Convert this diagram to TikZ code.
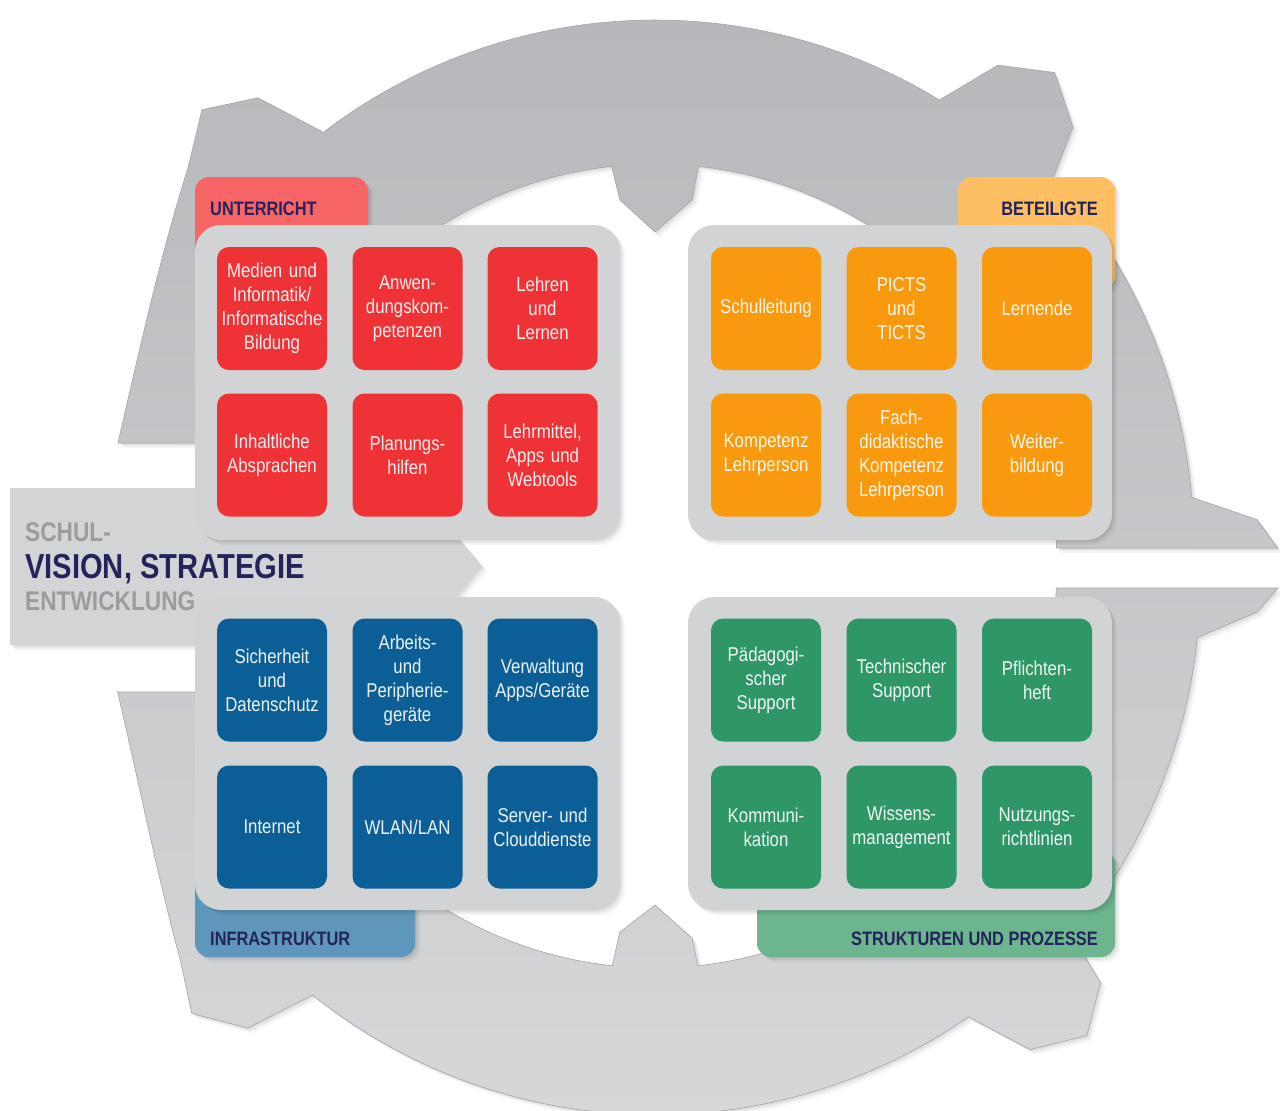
\documentclass[tikz,border=0pt]{standalone}
\usepackage{fontspec}
\setmainfont{Liberation Sans}[FakeStretch=0.84]
\usepackage{tikz}
\usetikzlibrary{shadows}
\definecolor{ringtop}{HTML}{B6B8BB}
\definecolor{ringbot}{HTML}{D6D7D9}
\definecolor{ringedge}{HTML}{A3A5A8}
\definecolor{panelgray}{HTML}{D1D3D5}
\definecolor{visiongray}{HTML}{D3D4D6}
\definecolor{navy}{HTML}{24245C}
\definecolor{schulgray}{HTML}{9B9C9F}
\definecolor{unterrichtred}{HTML}{EF3236}
\definecolor{unterrichttab}{HTML}{F76566}
\definecolor{beteiligtorange}{HTML}{F99A0E}
\definecolor{beteiligttab}{HTML}{FDBF62}
\definecolor{infrablue}{HTML}{0C5F96}
\definecolor{infratab}{HTML}{5E97BB}
\definecolor{strukturgreen}{HTML}{2F9767}
\definecolor{strukturtab}{HTML}{6DB58E}
\tikzset{
	softshadow/.style={
		general shadow={shadow xshift=1.5pt, shadow yshift=-1.5pt, fill=black, opacity=.05},
		general shadow={shadow xshift=3pt, shadow yshift=-3pt, fill=black, opacity=.05},
		general shadow={shadow xshift=5pt, shadow yshift=-5pt, fill=black, opacity=.04}},
	ring/.style={top color=ringtop, bottom color=ringbot, draw=ringedge, line width=.6pt, softshadow},
	panel/.style={fill=panelgray, rounded corners=26pt, softshadow},
	tab/.style={rounded corners=14pt, softshadow},
	tabtext/.style={font=\fontsize{19.5}{22}\selectfont\bfseries, text=navy, inner sep=0pt},
	itembox/.style={rounded corners=12pt, minimum width=110pt, minimum height=123pt,
		text width=108pt, align=center, inner sep=0pt, text=white, text opacity=.92,
		font=\fontsize{20}{24}\selectfont},
}

\begin{document}
\begin{tikzpicture}[x=1pt,y=-1pt]
	\useasboundingbox (0,0) rectangle (1280,1111);
	% ring of the cycle
	\begin{scope}[shift={(655,566)}]
	\shade[ring]
	(-162.2:402) -- (-537,-123)
	-- plot[domain=-167.1:-139.5, samples=30, variable=\t] (\t:{551+63*((\t+167.1)/27.6)^2})
	-- (-134.8:643) -- (-130.3:614) -- (-127.5:548)
	-- plot[domain=-127.5:-58.6, samples=60, variable=\t] (\t:546)
	-- (-55.6:607) -- (-51.0:635) -- (-46.4:606) -- (-44.3:557)
	-- plot[domain=-44.3:-7.3, samples=30, variable=\t] (\t:{557-16*(\t+44.3)/37})
	-- (-4.4:604) -- (-1.65:623) -- (401.6,-18)
	-- plot[domain=-2.57:-83.8, samples=60, variable=\t] (\t:402)
	-- (-84.2:368) -- (-90:334) -- (-95.5:368) -- (-96.2:402)
	-- plot[domain=-96.2:-162.2, samples=40, variable=\t] (\t:402)
	-- cycle
	(401.4,22) -- (623,22) -- (602,46) -- (7.5:547)
	-- plot[domain=7.5:41.5, samples=30, variable=\t] (\t:{547+10*(\t-7.5)/34})
	-- (43.1:610) -- (47.4:638) -- (52.2:612) -- (55.2:549)
	-- plot[domain=55.2:128.6, samples=60, variable=\t] (\t:549)
	-- (131.4:616) -- (136.0:644) -- (140.3:617)
	-- plot[domain=140.3:166.8, samples=30, variable=\t] (\t:{552+65*((166.8-\t)/26.5)^2})
	-- (-381.7,126)
	-- plot[domain=161.7:96.1, samples=40, variable=\t] (\t:402)
	-- (95.5:368) -- (90:339) -- (84.3:374) -- (83.9:402)
	-- plot[domain=83.9:3.1, samples=60, variable=\t] (\t:402)
	-- cycle;
	\end{scope}
	% vision arrow
	\fill[visiongray, softshadow]
	(10,488) -- (416,488) -- (482,566) -- (416,645) -- (10,645) -- cycle;
	\node[anchor=base west, inner sep=0pt, font=\fontsize{27}{30}\selectfont\bfseries, text=schulgray] (schul) at (25,541) {SCHUL-};
	\node[anchor=base west, inner sep=0pt, font=\fontsize{34.7}{38}\selectfont\bfseries, text=navy] (vision) at (25,578) {VISION, STRATEGIE};
	\node[anchor=base west, inner sep=0pt, font=\fontsize{27}{30}\selectfont\bfseries, text=schulgray] (entw) at (25,610) {ENTWICKLUNG};
	% tabs
	\fill[tab, unterrichttab] (195,177) rectangle (368,290);
	\fill[tab, beteiligttab] (958,177) rectangle (1115,290);
	\fill[tab, infratab] (195,850) rectangle (415,957);
	\fill[tab, strukturtab] (757,850) rectangle (1115,957);
	\node[tabtext, anchor=base west] (unterricht) at (210,215) {UNTERRICHT};
	\node[tabtext, anchor=base east] (beteiligte) at (1098,215) {BETEILIGTE};
	\node[tabtext, anchor=base west] (infra) at (210,945) {INFRASTRUKTUR};
	\node[tabtext, anchor=base east] (struktur) at (1098,945) {STRUKTUREN UND PROZESSE};
	% panels
	\fill[panel] (195,225) rectangle (620,540);
	\fill[panel] (688,225) rectangle (1112,540);
	\fill[panel] (195,597) rectangle (620,910);
	\fill[panel] (688,597) rectangle (1112,910);
	% Unterricht
	\node[itembox, fill=unterrichtred] (medien) at (272,308.5) {Medien und\\Informatik/\\Informatische\\Bildung};
	\node[itembox, fill=unterrichtred] (anwend) at (407.5,308.5) {Anwen-\\dungskom-\\petenzen};
	\node[itembox, fill=unterrichtred] (lehren) at (542.5,308.5) {Lehren\\und\\Lernen};
	\node[itembox, fill=unterrichtred] (absprachen) at (272,455) {Inhaltliche\\Absprachen};
	\node[itembox, fill=unterrichtred] (planung) at (407.5,455) {Planungs-\\hilfen};
	\node[itembox, fill=unterrichtred] (lehrmittel) at (542.5,455) {Lehrmittel,\\Apps und\\Webtools};
	% Beteiligte
	\node[itembox, fill=beteiligtorange] (schulleitung) at (766,308.5) {Schulleitung};
	\node[itembox, fill=beteiligtorange] (picts) at (901.5,308.5) {PICTS\\und\\TICTS};
	\node[itembox, fill=beteiligtorange] (lernende) at (1037,308.5) {Lernende};
	\node[itembox, fill=beteiligtorange] (kompetenz) at (766,455) {Kompetenz\\Lehrperson};
	\node[itembox, fill=beteiligtorange] (fachdid) at (901.5,455) {Fach-\\didaktische\\Kompetenz\\Lehrperson};
	\node[itembox, fill=beteiligtorange] (weiterbildung) at (1037,455) {Weiter-\\bildung};
	% Infrastruktur
	\node[itembox, fill=infrablue] (sicherheit) at (272,680) {Sicherheit\\und\\Datenschutz};
	\node[itembox, fill=infrablue] (geraete) at (407.5,680) {Arbeits-\\und\\Peripherie-\\geräte};
	\node[itembox, fill=infrablue] (verwaltung) at (542.5,680) {Verwaltung\\Apps/Geräte};
	\node[itembox, fill=infrablue] (internet) at (272,827) {Internet};
	\node[itembox, fill=infrablue] (wlan) at (407.5,827) {WLAN/LAN};
	\node[itembox, fill=infrablue] (server) at (542.5,827) {Server- und\\Clouddienste};
	% Strukturen und Prozesse
	\node[itembox, fill=strukturgreen] (paedsupport) at (766,680) {Pädagogi-\\scher\\Support};
	\node[itembox, fill=strukturgreen] (techsupport) at (901.5,680) {Technischer\\Support};
	\node[itembox, fill=strukturgreen] (pflichtenheft) at (1037,680) {Pflichten-\\heft};
	\node[itembox, fill=strukturgreen] (kommunikation) at (766,827) {Kommuni-\\kation};
	\node[itembox, fill=strukturgreen] (wissen) at (901.5,827) {Wissens-\\management};
	\node[itembox, fill=strukturgreen] (nutzung) at (1037,827) {Nutzungs-\\richtlinien};
\end{tikzpicture}
\end{document}
